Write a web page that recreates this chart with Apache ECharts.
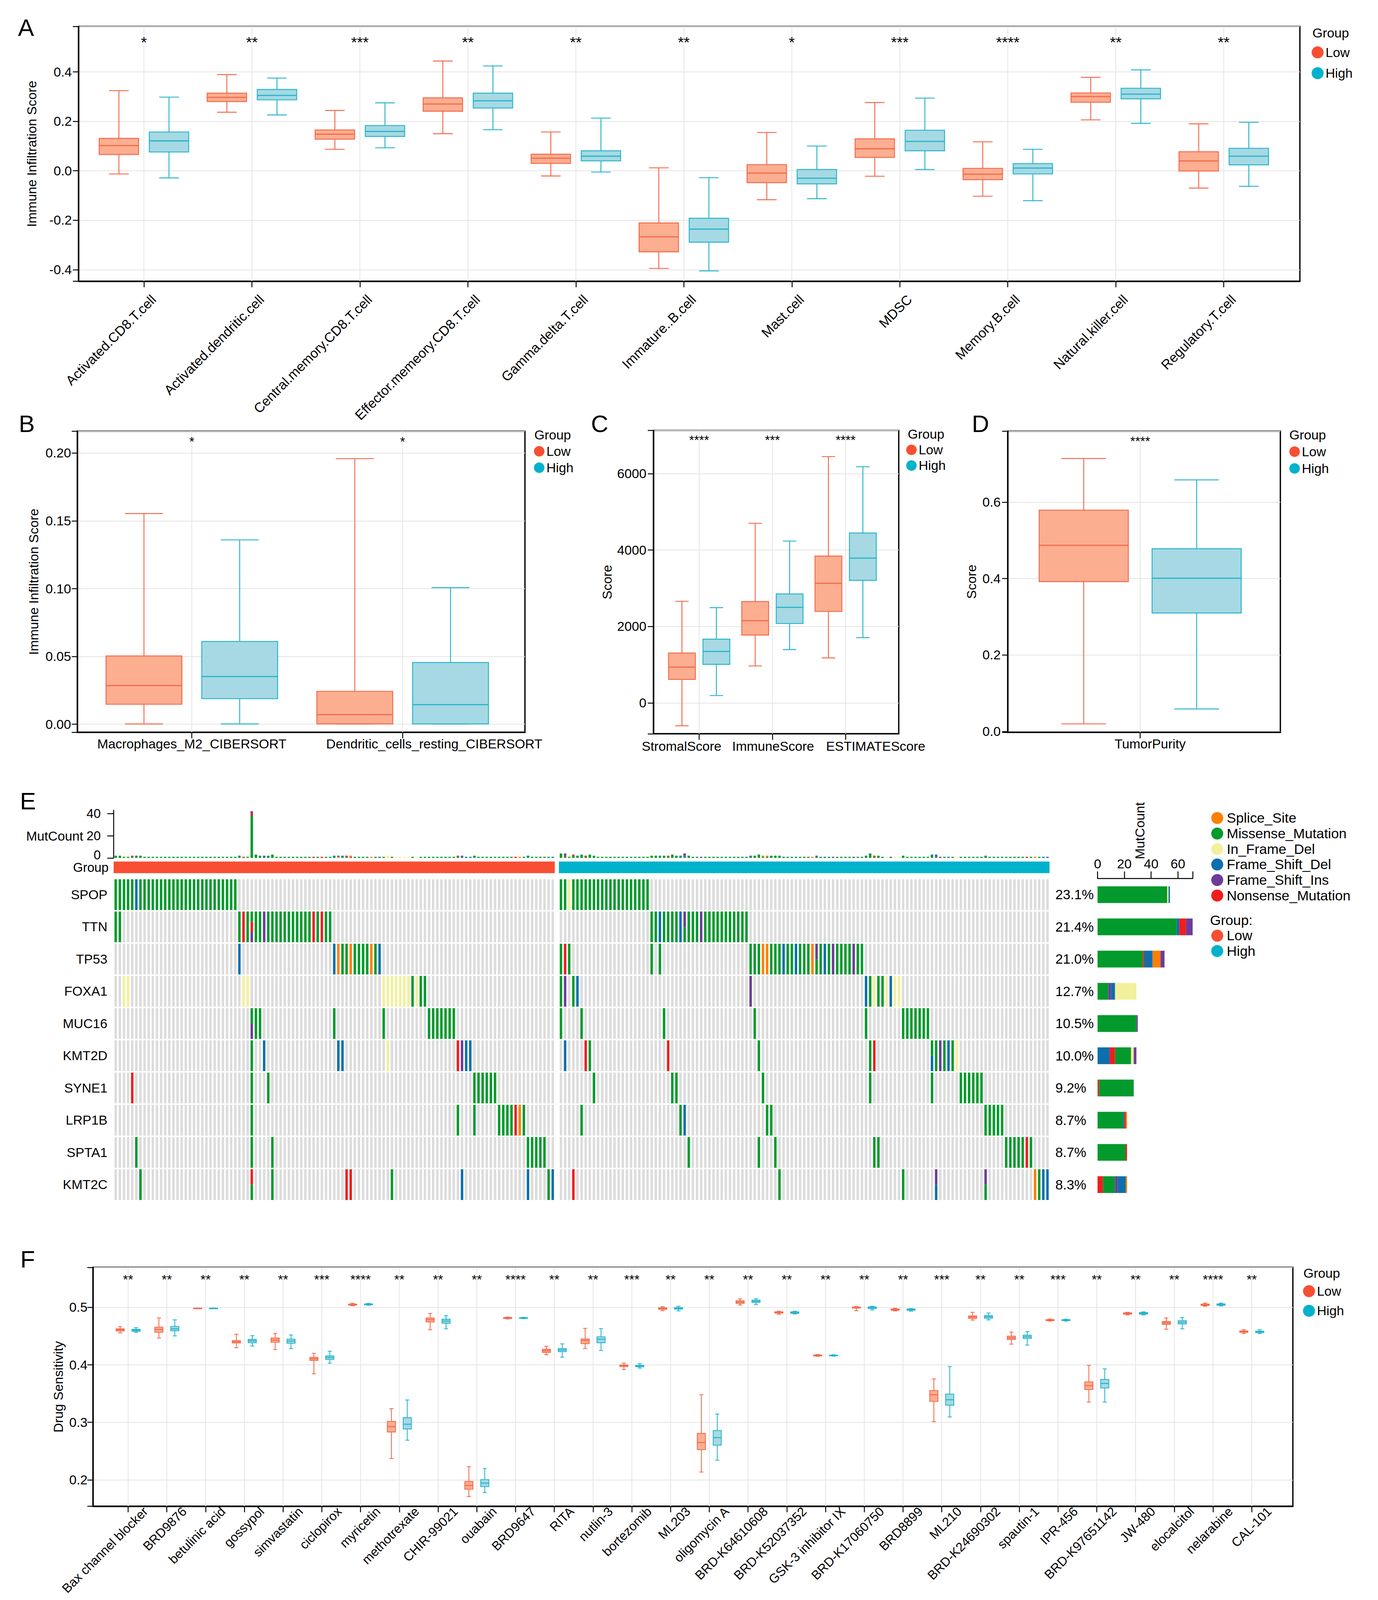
<!DOCTYPE html>
<html><head><meta charset="utf-8">
<script src="https://cdn.jsdelivr.net/npm/echarts@6/dist/echarts.min.js"></script>
<style>html,body{margin:0;padding:0;background:#fff;overflow:hidden}#c{width:3528px;height:4420px}</style>
</head><body><div id="c"></div>
<script>
// ---------------- DATA ----------------
// Panel A (whisker-low, Q1, median, Q3, whisker-high)
const catsA = ['Activated.CD8.T.cell','Activated.dendritic.cell','Central.memory.CD8.T.cell','Effector.memeory.CD8.T.cell','Gamma.delta.T.cell','Immature..B.cell','Mast.cell','MDSC','Memory.B.cell','Natural.killer.cell','Regulatory.T.cell'];
const lowA = [[-0.013,0.066,0.102,0.131,0.324],[0.237,0.280,0.297,0.314,0.389],[0.087,0.128,0.148,0.165,0.244],[0.150,0.241,0.270,0.295,0.444],[-0.021,0.030,0.051,0.067,0.157],[-0.395,-0.328,-0.267,-0.211,0.012],[-0.117,-0.048,-0.009,0.025,0.155],[-0.022,0.054,0.089,0.129,0.276],[-0.103,-0.036,-0.014,0.010,0.117],[0.206,0.277,0.300,0.315,0.378],[-0.070,-0.001,0.040,0.077,0.190]];
const highA = [[-0.029,0.076,0.121,0.157,0.298],[0.226,0.287,0.305,0.329,0.375],[0.093,0.139,0.159,0.183,0.275],[0.166,0.254,0.283,0.314,0.424],[-0.005,0.040,0.059,0.081,0.213],[-0.405,-0.289,-0.236,-0.192,-0.028],[-0.113,-0.053,-0.030,0.005,0.100],[0.005,0.081,0.119,0.164,0.294],[-0.121,-0.013,0.011,0.029,0.087],[0.192,0.291,0.310,0.334,0.408],[-0.063,0.024,0.059,0.091,0.196]];
const sigA = ['*','**','***','**','**','**','*','***','****','**','**'];
const ticksA = [-0.4,-0.2,0,0.2,0.4];

// Panel B
const catsB = ['Macrophages_M2_CIBERSORT','Dendritic_cells_resting_CIBERSORT'];
const lowB = [[0.0003,0.0148,0.0286,0.0504,0.1554],[0.0003,0.0003,0.0071,0.0243,0.1959]];
const highB = [[0.0003,0.0189,0.0352,0.0611,0.1360],[0.0003,0.0003,0.0145,0.0456,0.1008]];
const sigB = ['*','*'];
const ticksB = [0,0.05,0.10,0.15,0.20];

// Panel C
const catsC = ['StromalScore','ImmuneScore','ESTIMATEScore'];
const lowC = [[-598,616,937,1305,2659],[967,1776,2151,2653,4701],[1178,2393,3130,3843,6447]];
const highC = [[193,1009,1347,1668,2495],[1396,2079,2502,2852,4236],[1710,3208,3789,4447,6181]];
const sigC = ['****','***','****'];
const ticksC = [0,2000,4000,6000];

// Panel D
const catsD = ['TumorPurity'];
const lowD = [[0.020,0.392,0.487,0.579,0.714]];
const highD = [[0.059,0.310,0.401,0.478,0.658]];
const sigD = ['****'];
const ticksD = [0,0.2,0.4,0.6];

// Panel F
const catsF = ['Bax channel blocker','BRD9876','betulinic acid','gossypol','simvastatin','ciclopirox','myricetin','methotrexate','CHIR-99021','ouabain','BRD9647','RITA','nutlin-3','bortezomib','ML203','oligomycin A','BRD-K64610608','BRD-K52037352','GSK-3 inhibitor IX','BRD-K17060750','BRD8899','ML210','BRD-K24690302','spautin-1','IPR-456','BRD-K97651142','JW-480','elocalcitol','nelarabine','CAL-101'];
const lowF = [[0.4557,0.4590,0.4611,0.4627,0.4664],[0.4467,0.4566,0.4615,0.4656,0.4816],[0.4981,0.4983,0.4984,0.4986,0.4988],[0.4299,0.4381,0.4402,0.4422,0.4533],[0.4266,0.4393,0.4430,0.4467,0.4545],[0.3844,0.4078,0.4107,0.4131,0.4201],[0.5029,0.5041,0.5049,0.5057,0.5070],[0.2369,0.2832,0.2926,0.3016,0.3238],[0.4611,0.4746,0.4787,0.4816,0.4893],[0.1709,0.1836,0.1902,0.1971,0.2230],[0.4799,0.4807,0.4816,0.4824,0.4832],[0.4176,0.4217,0.4246,0.4270,0.4324],[0.4283,0.4369,0.4426,0.4451,0.4635],[0.3918,0.3971,0.3984,0.3996,0.4029],[0.4943,0.4967,0.4980,0.4992,0.5012],[0.2135,0.2525,0.2648,0.2807,0.3480],[0.5041,0.5070,0.5094,0.5115,0.5148],[0.4881,0.4902,0.4910,0.4922,0.4934],[0.4148,0.4156,0.4164,0.4172,0.4180],[0.4943,0.4988,0.4996,0.5004,0.5016],[0.4939,0.4951,0.4963,0.4971,0.4984],[0.3012,0.3365,0.3480,0.3553,0.3754],[0.4779,0.4807,0.4832,0.4852,0.4914],[0.4361,0.4443,0.4471,0.4500,0.4570],[0.4762,0.4770,0.4779,0.4787,0.4795],[0.3352,0.3570,0.3639,0.3705,0.3992],[0.4869,0.4885,0.4898,0.4906,0.4914],[0.4619,0.4705,0.4730,0.4754,0.4816],[0.5020,0.5033,0.5045,0.5057,0.5074],[0.4545,0.4566,0.4578,0.4590,0.4611]];
const highF = [[0.4566,0.4586,0.4602,0.4619,0.4648],[0.4504,0.4594,0.4627,0.4668,0.4783],[0.4981,0.4983,0.4984,0.4986,0.4988],[0.4328,0.4385,0.4418,0.4443,0.4508],[0.4283,0.4377,0.4414,0.4447,0.4520],[0.4029,0.4094,0.4127,0.4156,0.4238],[0.5037,0.5045,0.5053,0.5061,0.5070],[0.2689,0.2885,0.2967,0.3082,0.3389],[0.4627,0.4725,0.4762,0.4795,0.4857],[0.1779,0.1881,0.1943,0.2004,0.2197],[0.4803,0.4811,0.4816,0.4820,0.4828],[0.4135,0.4230,0.4258,0.4283,0.4365],[0.4250,0.4385,0.4447,0.4488,0.4631],[0.3943,0.3967,0.3980,0.3992,0.4020],[0.4939,0.4971,0.4984,0.4996,0.5020],[0.2340,0.2602,0.2734,0.2857,0.3143],[0.5049,0.5086,0.5107,0.5127,0.5152],[0.4885,0.4898,0.4910,0.4922,0.4934],[0.4152,0.4160,0.4164,0.4168,0.4176],[0.4955,0.4980,0.4996,0.5008,0.5020],[0.4934,0.4951,0.4959,0.4971,0.4980],[0.3094,0.3299,0.3393,0.3492,0.3971],[0.4783,0.4811,0.4836,0.4857,0.4902],[0.4344,0.4459,0.4488,0.4516,0.4578],[0.4762,0.4770,0.4779,0.4787,0.4795],[0.3352,0.3598,0.3676,0.3746,0.3930],[0.4869,0.4885,0.4898,0.4910,0.4922],[0.4627,0.4713,0.4742,0.4770,0.4824],[0.5025,0.5037,0.5049,0.5061,0.5074],[0.4545,0.4561,0.4574,0.4586,0.4611]];
const sigF = ['**','**','**','**','**','***','****','**','**','**','****','**','**','***','**','**','**','**','**','**','**','***','**','**','***','**','**','**','****','**'];
const ticksF = [0.2,0.3,0.4,0.5];

// Panel E (oncoplot). Columns: Low samples 0..106, High samples 108..226
const genesE = ['SPOP','TTN','TP53','FOXA1','MUC16','KMT2D','SYNE1','LRP1B','SPTA1','KMT2C'];
const pctE = ['23.1%','21.4%','21.0%','12.7%','10.5%','10.0%','9.2%','8.7%','8.7%','8.3%'];
const typeNames = ['Splice_Site','Missense_Mutation','In_Frame_Del','Frame_Shift_Del','Frame_Shift_Ins','Nonsense_Mutation'];
const typeCodes = ['S','M','I','D','F','N'];
const mut_SPOP = '0M 1M 2M 3M 4M 5D 6M 7M 8M 9M 10M 11M 12M 13M 14M 15M 16M 17M 18M 19M 20M 21M 22M 23M 24M 25M 26M 27M 28M 29M 108M 109M 110I 111M 112M 113M 114M 115M 116M 117M 118M 119M 120M 121M 122M 123M 124M 125M 126M 127M 128M 129M';
const mut_TTN = '0M 1M 30M 31N 32M 33MNF 34M 35M 36F 37M 38M 39M 40M 41M 42M 43M 44M 45M 46M 47M 48N 49M 50N 51M 52M 130M 131M 132D 133M 134M 135M 136M 137D 138FM 139M 140M 141M 142F 143M 144M 145M 146M 147M 148M 149M 150M 151M 152M 153M';
const mut_TP53 = '30D 53D 54S 55M 56M 57S 58M 59M 60M 61M 62S 63M 64D 108M 109N 110M 130M 132M 154M 155M 156M 157S 158S 159M 160M 161M 162D 163M 164M 165D 166M 167M 168M 169S 170FM 171M 172D 173M 174F 175M 176M 177M 178M 179F 180M 181M';
const mut_FOXA1 = '2I 3I 31I 32I 65I 66I 67I 68I 69I 70I 71I 72M 73I 74M 75M 108M 109F 111M 112D 154F 182D 183M 184I 185M 186M 187I 188D 189I 190I';
const mut_MUC16 = '33MF 34M 35M 53M 65M 76M 77M 78M 79M 80M 81M 82M 108M 113M 133M 155M 182M 191M 192M 193M 194M 195M 196M 197M';
const mut_KMT2D = '33M 36D 54D 55D 66I 83N 84F 85D 86D 109D 114N 115M 134N 156M 183M 184N 198MD 199M 200F 201M 202D 203M 204I';
const mut_SYNE1 = '4N 33M 37M 87M 88M 89M 90M 91M 92M 116M 135M 136M 157M 183M 198M 205M 206M 207M 208M 209M 210M';
const mut_LRP1B = '33M 83M 87M 93M 94M 95M 96M 97N 98S 99M 113M 137M 138D 158M 159M 211M 212M 213M 214M 215M';
const mut_SPTA1 = '5M 33M 38M 100M 101M 102M 103M 104M 139M 156M 160M 184M 185M 216M 217M 218M 219M 220M 221N 222M';
const mut_KMT2C = '6M 33NM 38M 56N 57N 67M 84D 100D 105M 106D 111N 161M 191M 199FD 211FM 223S 224M 225D 226D';
const mutCountLow = [2,2,2,2,2,2,2, 1,1,1,1,1,1,1,1,1,1,1,1,1,1,1,1,1,1,1,1,1,1,1, 2,2,2,42,3,2,2,2,3, 1,1,1,1,1,1,1,1,1,1,1,1,1,1, 2,2,2,2,2, 1,1,1,1,1,1,1, 2,2,2, 1,1,1,1,1,1,1,1,1,1,1,1,1,1,1, 2,2,1,1,2, 1,1,1,1,1,1,1,1,1,1,1,1, 2,1,1,1,1,1,1];
const mutCountHigh = [4,4,2,3,2,3,2,3,2, 1,1,1,1,1,1,1,1,1,1,1,1,1, 2,2,2,2,2,3,2,2,4,2, 1,1,1,1,1,1,1,1,1,1,1,1,1,1, 2,2,3,2,2,2,2,2, 1,1,1,1,1,1,1,1, 2, 1,1,1,1,1,1,1,1,1,1,1, 2,4,3,2, 1,1,1,1,1, 2, 1,1,1,1,1,1, 3,3, 1,1,1,1,1,1,1,1,1,1,1, 2, 1,1,1,1,1,1,1,1,1,1,1,1,1,1,1];
// right-side stacked counts per gene (type, count) in drawn order
const cnt_SPOP = [['M',52],['I',1],['D',1]];
const cnt_TTN = [['M',59],['D',2],['N',5],['F',5]];
const cnt_TP53 = [['M',34],['N',1],['D',6],['S',6],['F',3]];
const cnt_FOXA1 = [['M',8],['F',2],['D',3],['I',16]];
const cnt_MUC16 = [['M',29],['F',1]];
const cnt_KMT2D = [['D',9],['N',4],['M',12],['I',2],['F',2]];
const cnt_SYNE1 = [['N',1],['M',26]];
const cnt_LRP1B = [['M',19],['D',1],['N',1],['S',1]];
const cnt_SPTA1 = [['M',21],['N',1]];
const cnt_KMT2C = [['N',4],['M',9],['F',2],['D',6],['S',1]];

// ---------------- LAYOUT SCALE (design space 3528 x 4420 -> actual viewport) ----------------
const VW = 3528, VH = 4420;
const W = (document.documentElement.clientWidth || window.innerWidth || VW);
const H = (document.documentElement.clientHeight || window.innerHeight || VH);
const KX = W / VW, KY = H / VH, KS = Math.sqrt(KX * KY);
const X = v => v * KX, Y = v => v * KY, S = v => v * KS;
const dom = document.getElementById('c');
dom.style.width = W + 'px'; dom.style.height = H + 'px';

// ---------------- STYLE ----------------
const FONT = '"Liberation Sans", Arial, Helvetica, sans-serif';
const C_LOW = '#F84E33', C_HIGH = '#00B2CB';
const C_LOW_FILL = '#FCAE90', C_LOW_LINE = '#F46A4B', C_HIGH_FILL = '#A6D9E3', C_HIGH_LINE = '#27B5CC';
const TYPE_COLOR = {S:'#FF7F00', M:'#029A2C', I:'#F2F09C', D:'#0B6FAE', F:'#6B3D99', N:'#F21D1D'};
const GRIDC = '#E4E4E4';

const option = {animation:false, backgroundColor:'#ffffff', textStyle:{fontFamily:FONT},
  grid:[], xAxis:[], yAxis:[], series:[], legend:[], graphic:[]};

function txt(x, y, text, size, opts){
  opts = opts || {};
  option.graphic.push({type:'text', x:X(x), y:Y(y), rotation:opts.rotation||0, silent:true,
    style:{text:text, fontSize:S(size), fill:'#000', fontFamily:FONT, align:opts.align||'left', verticalAlign:opts.va||'middle'}});
}
// pitch = distance between successive legend item centres (design px)
function addLegend(left, top, names, size, pitch, font, textGap){
  const isz = S(size), rowH = Math.max(isz, S(font));
  option.legend.push({left:X(left), top:Y(top) - (rowH - isz) / 2, orient:'vertical', data:names, icon:'circle', itemWidth:isz, itemHeight:isz,
    itemGap:Math.max(Y(pitch) - rowH, 0), padding:0, selectedMode:false, itemStyle:{borderWidth:0},
    textStyle:{fontSize:S(font), color:'#000', fontFamily:FONT, padding:[0, 0, 0, X(textGap || 0)]}});
}
function boxRenderer(off, w, line, fill, lw){
  return function(params, api){
    const x = api.value(0) + off;
    const pMin = api.coord([x, api.value(1)]), pQ1 = api.coord([x, api.value(2)]), pMed = api.coord([x, api.value(3)]);
    const pQ3 = api.coord([x, api.value(4)]), pMax = api.coord([x, api.value(5)]);
    const bw = api.size([w, 0])[0];
    const cx = pMed[0], cap = bw / 4;
    const st = {stroke:line, lineWidth:lw, fill:null};
    return {type:'group', children:[
      {type:'line', shape:{x1:cx, y1:pMax[1], x2:cx, y2:pQ3[1]}, style:st},
      {type:'line', shape:{x1:cx, y1:pQ1[1], x2:cx, y2:pMin[1]}, style:st},
      {type:'line', shape:{x1:cx-cap, y1:pMax[1], x2:cx+cap, y2:pMax[1]}, style:st},
      {type:'line', shape:{x1:cx-cap, y1:pMin[1], x2:cx+cap, y2:pMin[1]}, style:st},
      {type:'rect', shape:{x:cx-bw/2, y:pQ3[1], width:bw, height:Math.max(pQ1[1]-pQ3[1], 1.5)}, style:{fill:fill, stroke:line, lineWidth:lw}},
      {type:'line', shape:{x1:cx-bw/2, y1:pMed[1], x2:cx+bw/2, y2:pMed[1]}, style:{stroke:line, lineWidth:lw*1.25}}
    ]};
  };
}
function addBoxPanel(p){
  const gi = option.grid.length;
  option.grid.push({left:X(p.left), top:Y(p.top), width:X(p.width), height:Y(p.height), show:true, borderColor:'#000', borderWidth:S(3.5), backgroundColor:'rgba(0,0,0,0)'});
  const ints = p.cats.map((c, i) => i + 1);
  const lblVals = ints.map((v, i) => v + p.lblShifts[i]);
  option.xAxis.push({gridIndex:gi, type:'value', min:p.xMin, max:p.xMax,
    axisLine:{show:true, onZero:false, lineStyle:{color:'#000', width:S(3.5)}},
    axisTick:{show:true, customValues:ints, length:S(16), lineStyle:{color:'#000', width:S(2.5)}},
    axisLabel:{show:true, customValues:lblVals, hideOverlap:false,
      formatter:(v) => { const i = lblVals.findIndex(u => Math.abs(u - v) < 1e-6); return i >= 0 ? p.cats[i] : ''; },
      rotate:p.rotate, margin:Y(p.lblMargin), fontSize:S(p.xFont), color:'#000', fontFamily:FONT},
    splitLine:{show:false}});
  option.yAxis.push({gridIndex:gi, type:'value', min:p.yMin, max:p.yMax,
    axisLine:{show:true, onZero:false, lineStyle:{color:'#000', width:S(3.5)}},
    axisTick:{show:true, customValues:[p.yMin].concat(p.yTicks, [p.yMax]), length:S(15), lineStyle:{color:'#000', width:S(2.5)}},
    axisLabel:{customValues:p.yTicks, formatter:p.yFmt, fontSize:S(35), color:'#000', margin:X(p.yLblMargin), fontFamily:FONT},
    splitLine:{show:true, lineStyle:{color:GRIDC, width:S(2)}},
    name:p.yName, nameLocation:'middle', nameGap:X(p.yNameGap), nameTextStyle:{fontSize:S(35), color:'#000', fontFamily:FONT}});
  option.series.push({type:'custom', name:'vgrid' + gi, xAxisIndex:gi, yAxisIndex:gi, z:1, silent:true,
    data:ints.map(v => [v]), encode:{x:0},
    renderItem:(params, api) => {
      const cs = params.coordSys; const x = api.coord([api.value(0), p.yMin])[0];
      return {type:'line', shape:{x1:x, y1:cs.y, x2:x, y2:cs.y + cs.height}, style:{stroke:GRIDC, lineWidth:S(2)}};
    }});
  [['Low', p.low, -p.off, C_LOW_LINE, C_LOW_FILL, C_LOW], ['High', p.high, p.off, C_HIGH_LINE, C_HIGH_FILL, C_HIGH]].forEach(s => {
    option.series.push({type:'custom', name:s[0], xAxisIndex:gi, yAxisIndex:gi, z:3, itemStyle:{color:s[5]},
      data:s[1].map((d, i) => [i + 1].concat(d)), encode:{x:0, y:[1,2,3,4,5]},
      renderItem:boxRenderer(s[2], p.boxW, s[3], s[4], S(p.lw))});
  });
  option.series.push({type:'custom', name:'sig' + gi, xAxisIndex:gi, yAxisIndex:gi, z:4, silent:true,
    data:ints.map(v => [v]), encode:{x:0},
    renderItem:(params, api) => {
      const pt = api.coord([api.value(0), p.starY]);
      return {type:'text', x:pt[0], y:pt[1] + S(p.starFont * 0.25),
        style:{text:p.sig[params.dataIndex], fontSize:S(p.starFont), fill:'#000', align:'center', verticalAlign:'middle', fontFamily:FONT}};
    }});
}
const same = (n, v) => Array.from({length:n}, () => v);

// ---------------- PANELS A-D, F ----------------
addBoxPanel({left:201, top:73, width:3127, height:704, xMin:0.394, xMax:11.705, yMin:-0.447, yMax:0.584,
  cats:catsA, low:lowA, high:highA, sig:sigA, yTicks:ticksA, yFmt:v => v.toFixed(1), starY:0.5345, starFont:40,
  boxW:0.365, off:0.232, lw:2.5, rotate:45, lblShifts:same(11, 0.09), lblMargin:44, xFont:36,
  yName:'Immune Infiltration Score', yNameGap:103, yLblMargin:17});
addBoxPanel({left:198, top:1191, width:1146, height:832, xMin:0.457, xMax:2.58, yMin:-0.0059, yMax:0.2162,
  cats:catsB, low:lowB, high:highB, sig:sigB, yTicks:ticksB, yFmt:v => v.toFixed(2), starY:0.2108, starFont:34,
  boxW:0.36, off:0.227, lw:2.5, rotate:0, lblShifts:[0, 0.15], lblMargin:14, xFont:35,
  yName:'Immune Infiltration Score', yNameGap:95, yLblMargin:16});
addBoxPanel({left:1673, top:1189, width:628, height:838, xMin:0.376, xMax:3.725, yMin:-807, yMax:7132,
  cats:catsC, low:lowC, high:highC, sig:sigC, yTicks:ticksC, yFmt:v => String(Math.round(v)), starY:6966, starFont:34,
  boxW:0.366, off:0.235, lw:2.5, rotate:0, lblShifts:[-0.24, 0.01, 0.41], lblMargin:16, xFont:35,
  yName:'Score', yNameGap:102, yLblMargin:18});
addBoxPanel({left:2580, top:1191, width:698, height:832, xMin:0.465, xMax:1.566, yMin:-0.002, yMax:0.7855,
  cats:catsD, low:lowD, high:highD, sig:sigD, yTicks:ticksD, yFmt:v => v.toFixed(1), starY:0.7675, starFont:34,
  boxW:0.36, off:0.228, lw:2.5, rotate:0, lblShifts:[0.04], lblMargin:14, xFont:35,
  yName:'Score', yNameGap:76, yLblMargin:18});
addBoxPanel({left:238, top:3501, width:3072, height:660, xMin:0.093, xMax:31.06, yMin:0.154, yMax:0.5697,
  cats:catsF, low:lowF, high:highF, sig:sigF, yTicks:ticksF, yFmt:v => v.toFixed(1), starY:0.554, starFont:35,
  boxW:0.21, off:0.205, lw:2.2, rotate:45, lblShifts:same(30, 0.45), lblMargin:8, xFont:34,
  yName:'Drug Sensitivity', yNameGap:64, yLblMargin:14});

// ---------------- PANEL E ----------------
const mutLists = [mut_SPOP, mut_TTN, mut_TP53, mut_FOXA1, mut_MUC16, mut_KMT2D, mut_SYNE1, mut_LRP1B, mut_SPTA1, mut_KMT2C];
const cntLists = [cnt_SPOP, cnt_TTN, cnt_TP53, cnt_FOXA1, cnt_MUC16, cnt_KMT2D, cnt_SYNE1, cnt_LRP1B, cnt_SPTA1, cnt_KMT2C];
const N_LOW = mutCountLow.length, HIGH0 = N_LOW + 1, N_TOT = HIGH0 + mutCountHigh.length;
const cellMap = genesE.map(() => ({}));
const colLetters = {};
mutLists.forEach((s, gi) => {
  s.trim().split(/\s+/).forEach(tok => {
    const m = tok.match(/^(\d+)([A-Z]+)$/); const c = +m[1];
    cellMap[gi][c] = m[2]; colLetters[c] = (colLetters[c] || '') + m[2];
  });
});
const E_LEFT = 291, E_W = 2396;
const gMut = option.grid.length;
option.grid.push({left:X(E_LEFT), top:Y(2238), width:X(E_W), height:Y(132)});
option.xAxis.push({gridIndex:gMut, type:'value', min:-0.5, max:N_TOT - 0.5, show:false});
const mutTickLabels = [2.6, 20, 40];   // "0" label nudged slightly upward so it clears the "Group" label
option.yAxis.push({gridIndex:gMut, type:'value', min:0, max:43,
  axisLine:{show:true, onZero:false, lineStyle:{color:'#000', width:S(2.5)}},
  axisTick:{show:true, customValues:[0,20,40], length:S(17), lineStyle:{color:'#000', width:S(2.5)}},
  axisLabel:{customValues:mutTickLabels, formatter:v => (v < 10 ? '0' : String(v)), fontSize:S(34), color:'#000', margin:X(33), fontFamily:FONT},
  splitLine:{show:false}});
const mutData = mutCountLow.map((v, i) => [i, v]).concat(mutCountHigh.map((v, i) => [HIGH0 + i, v]));
const STACK_ORDER = ['M','N','S','I','D','F'];
option.series.push({type:'custom', name:'mutcount', xAxisIndex:gMut, yAxisIndex:gMut, z:3, silent:true,
  data:mutData, encode:{x:0, y:1},
  renderItem:(params, api) => {
    const col = api.value(0), tot = api.value(1);
    const letters = colLetters[col] || 'M';
    const seg = {}; let maxT = letters[0];
    for (const ch of letters) seg[ch] = (seg[ch] || 0) + 1;
    for (const k in seg) if (seg[k] > seg[maxT]) maxT = k;
    if (tot >= letters.length) seg[maxT] += tot - letters.length;
    else for (const k in seg) seg[k] *= tot / letters.length;
    const w = api.size([0.6, 0])[0];
    let acc = 0; const ch = [];
    STACK_ORDER.forEach(t => {
      if (!seg[t]) return;
      const p0 = api.coord([col, acc]), p1 = api.coord([col, acc + seg[t]]);
      ch.push({type:'rect', shape:{x:p0[0] - w/2, y:p1[1], width:w, height:p0[1] - p1[1]}, style:{fill:TYPE_COLOR[t]}});
      acc += seg[t];
    });
    return {type:'group', children:ch};
  }});

const gGrp = option.grid.length;
option.grid.push({left:X(E_LEFT), top:Y(2380), width:X(E_W), height:Y(32)});
option.xAxis.push({gridIndex:gGrp, type:'value', min:-0.5, max:N_TOT - 0.5, show:false});
option.yAxis.push({gridIndex:gGrp, type:'category', data:['Group'], axisLine:{show:false}, axisTick:{show:false},
  axisLabel:{fontSize:S(34), color:'#000', margin:X(13), padding:[Y(12), 0, 0, 0], fontFamily:FONT}});
const groupSpans = [[0, N_LOW - 1, 0], [HIGH0, N_TOT - 1, 1]];
option.series.push({type:'custom', name:'groupbar', xAxisIndex:gGrp, yAxisIndex:gGrp, silent:true,
  data:groupSpans, encode:{x:[0,1]},
  renderItem:(params, api) => {
    const cs = params.coordSys;
    const x0 = api.coord([api.value(0) - 0.5, 0])[0], x1 = api.coord([api.value(1) + 0.5, 0])[0];
    return {type:'rect', shape:{x:x0, y:cs.y, width:x1 - x0, height:cs.height}, style:{fill:api.value(2) === 0 ? C_LOW : C_HIGH}};
  }});

const gOnc = option.grid.length;
option.grid.push({left:X(E_LEFT), top:Y(2427), width:X(E_W), height:Y(890)});
option.xAxis.push({gridIndex:gOnc, type:'value', min:-0.5, max:N_TOT - 0.5, show:false});
option.yAxis.push({gridIndex:gOnc, type:'category', data:genesE, inverse:true, axisLine:{show:false}, axisTick:{show:false},
  axisLabel:{fontSize:S(35), color:'#000', margin:X(16), fontFamily:FONT}});
const onData = [], onCodes = [];
genesE.forEach((g, gi) => {
  for (let c = 0; c < N_TOT; c++) {
    if (c === N_LOW) continue;
    onData.push([c, gi]); onCodes.push(cellMap[gi][c] || '');
  }
});
option.series.push({type:'custom', name:'onco', xAxisIndex:gOnc, yAxisIndex:gOnc, silent:true,
  data:onData, encode:{x:0, y:1},
  renderItem:(params, api) => {
    const c = api.coord([api.value(0), api.value(1)]);
    const sz = api.size([0.6, 1]);
    const w = sz[0], h = sz[1] * 0.955;
    const code = onCodes[params.dataIndex];
    if (!code) return {type:'rect', shape:{x:c[0] - w/2, y:c[1] - h/2, width:w, height:h}, style:{fill:'#DCDCDC'}};
    const k = code.length;
    return {type:'group', children:code.split('').map((ch, j) => ({type:'rect',
      shape:{x:c[0] - w/2, y:c[1] - h/2 + j * h / k, width:w, height:h / k}, style:{fill:TYPE_COLOR[ch]}}))};
  }});

const gRb = option.grid.length;
option.grid.push({left:X(2810), top:Y(2427), width:X(243.5), height:Y(890)});
option.xAxis.push({gridIndex:gRb, type:'value', min:0, max:71, position:'top',
  axisLine:{show:true, onZero:false, lineStyle:{color:'#000', width:S(2.5)}},
  axisTick:{show:true, customValues:[0,20,40,60,71], length:S(19), lineStyle:{color:'#000', width:S(2.5)}},
  axisLabel:{customValues:[0,20,40,60], fontSize:S(35), color:'#000', margin:Y(22), fontFamily:FONT},
  splitLine:{show:false}});
option.yAxis.push({gridIndex:gRb, type:'category', data:genesE, inverse:true, axisLine:{show:false}, axisTick:{show:false},
  axisLabel:{formatter:(v, i) => pctE[i], align:'left', fontSize:S(36), color:'#000', margin:X(108), fontFamily:FONT}});
const segByType = {}; typeCodes.forEach(t => segByType[t] = []);
cntLists.forEach((lst, gi) => {
  let acc = 0;
  lst.forEach(([t, n]) => { segByType[t].push([acc, acc + n, gi]); acc += n; });
});
typeCodes.forEach((t, ti) => {
  option.series.push({type:'custom', name:typeNames[ti], xAxisIndex:gRb, yAxisIndex:gRb, itemStyle:{color:TYPE_COLOR[t]},
    data:segByType[t], encode:{x:[0,1], y:2},
    renderItem:(params, api) => {
      const p0 = api.coord([api.value(0), api.value(2)]), p1 = api.coord([api.value(1), api.value(2)]);
      const h = api.size([0, 1])[1] * 0.52;
      return {type:'rect', shape:{x:p0[0], y:p0[1] - h/2, width:p1[0] - p0[0], height:h}, style:{fill:TYPE_COLOR[t]}};
    }});
});

// ---------------- LEGENDS & LABELS ----------------
addLegend(3358, 128, ['Low','High'], 32, 57, 35);
addLegend(1367, 1232, ['Low','High'], 28, 45, 35);
addLegend(2320, 1228, ['Low','High'], 28, 43, 35);
addLegend(3301, 1233, ['Low','High'], 28, 46, 35);
addLegend(3336, 3550, ['Low','High'], 32, 54, 35);
addLegend(3101, 2243, typeNames, 32, 42.4, 37, 4);
addLegend(3101, 2568, ['Low','High'], 32, 42, 37, 4);
txt(3360, 91, 'Group', 35);
txt(1368, 1202, 'Group', 35);
txt(2324, 1199, 'Group', 35);
txt(3301, 1202, 'Group', 35);
txt(3337, 3517, 'Group', 35);
txt(3098, 2542, 'Group:', 37);
txt(213, 2310, 'MutCount', 35, {align:'right'});
txt(2918, 2295, 'MutCount', 35, {align:'center', rotation:Math.PI / 2});
txt(46, 76, 'A', 64);
txt(48, 1170, 'B', 64);
txt(1513, 1170, 'C', 64);
txt(2488, 1170, 'D', 64);
txt(51, 2213, 'E', 64);
txt(52, 3478, 'F', 64);

const chart = echarts.init(dom, null, {renderer:'svg', width:W, height:H});
chart.setOption(option);
</script></body></html>
